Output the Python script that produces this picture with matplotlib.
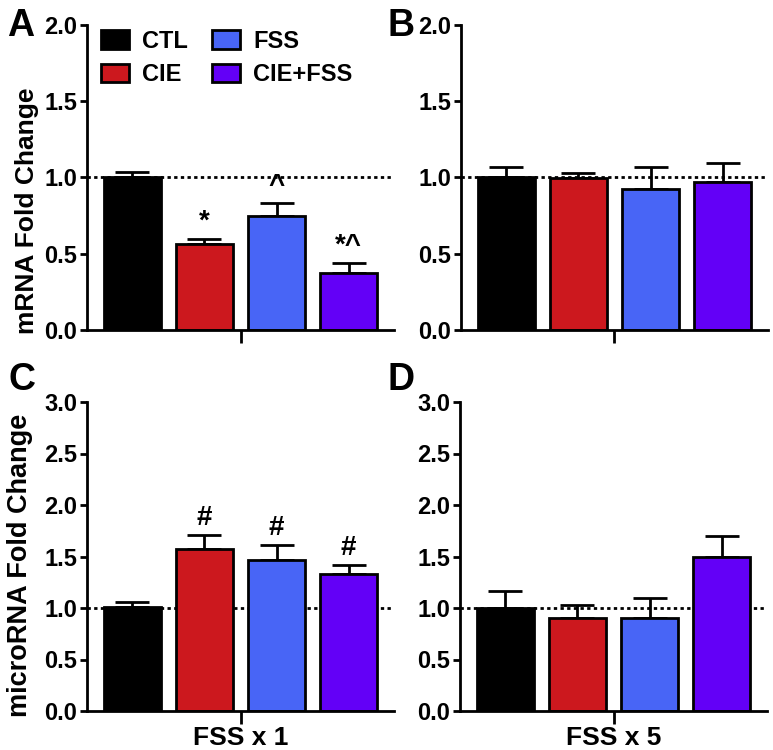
import matplotlib.pyplot as plt
import numpy as np

plt.rcParams['font.family'] = ['Liberation Sans', 'DejaVu Sans']
plt.rcParams['font.weight'] = 'bold'
plt.rcParams['axes.labelweight'] = 'bold'

groups = ["CTL", "CIE", "FSS", "CIE+FSS"]
colors = ["#000000", "#CC181E", "#4865F6", "#6300F7"]

mrna_x1 = [1.00, 0.565, 0.748, 0.372]
mrna_x1_err = [0.036, 0.030, 0.085, 0.065]
mrna_x5 = [1.00, 0.997, 0.923, 0.973]
mrna_x5_err = [0.067, 0.033, 0.144, 0.124]

mir_x1 = [1.005, 1.571, 1.465, 1.329]
mir_x1_err = [0.049, 0.136, 0.145, 0.087]
mir_x5 = [1.00, 0.907, 0.907, 1.499]
mir_x5_err = [0.165, 0.119, 0.187, 0.200]

marks_a = ["", "*", "^", "*^"]
marks_c = ["", "#", "#", "#"]

fig = plt.figure(figsize=(7.73, 7.5), dpi=100)
W = 307 / 773
axA = fig.add_axes([87 / 773, 1 - 330 / 750, W, 305 / 750])
axB = fig.add_axes([461 / 773, 1 - 330 / 750, W, 305 / 750])
axC = fig.add_axes([87 / 773, 1 - 711 / 750, W, 309 / 750])
axD = fig.add_axes([460 / 773, 1 - 711 / 750, W, 309 / 750])


def panel(ax, vals, errs, ymax, marks=None, xlab=""):
    x = np.arange(len(vals))
    ax.axhline(1.0, color="black", lw=2, ls=(0, (1.2, 1.2)), zorder=0)
    ax.errorbar(x, vals, yerr=[np.zeros(len(vals)), errs], fmt="none",
                ecolor="black", elinewidth=2, capsize=12, capthick=2, zorder=1)
    bars = ax.bar(x, vals, width=0.8, color=colors, edgecolor="black",
                  linewidth=2, zorder=2)
    ax.set_xlim(-0.63, 3.63)
    ax.set_ylim(0, ymax)
    ticks = np.arange(0, ymax + 0.01, 0.5)
    ax.set_yticks(ticks)
    ax.set_yticklabels([f"{t:.1f}" for t in ticks])
    ax.set_xticks([1.5])
    ax.set_xticklabels([xlab])
    for s in ["top", "right"]:
        ax.spines[s].set_visible(False)
    for s in ["left", "bottom"]:
        ax.spines[s].set_linewidth(2)
    ax.tick_params(axis="y", length=5, width=2, labelsize=17, pad=2)
    ax.tick_params(axis="x", length=9, width=2, labelsize=19, pad=2)
    if marks:
        for xi, v, e, m in zip(x, vals, errs, marks):
            if m:
                ax.annotate(m, (xi, v + e), xytext=(0, 3), textcoords="offset points",
                            ha="center", va="bottom", fontsize=20, fontweight="bold")
    return bars


bars = panel(axA, mrna_x1, mrna_x1_err, 2.0, marks_a)
panel(axB, mrna_x5, mrna_x5_err, 2.0)
panel(axC, mir_x1, mir_x1_err, 3.0, marks_c, "FSS x 1")
panel(axD, mir_x5, mir_x5_err, 3.0, None, "FSS x 5")

axA.set_ylabel("mRNA Fold Change", fontsize=19)
axA.yaxis.set_label_coords(-0.155, 0.39)
axC.set_ylabel("microRNA Fold Change", fontsize=19.5)
axC.yaxis.set_label_coords(-0.175, 0.47)

axA.legend(bars, groups, ncol=2, frameon=False, loc="upper left",
           bbox_to_anchor=(0.045, 0.985), fontsize=17, handlelength=1.2,
           handleheight=0.85, columnspacing=1.0, handletextpad=0.55,
           labelspacing=0.45, borderpad=0, borderaxespad=0)

for lab, x, y in [("A", 7, 8), ("B", 388, 8), ("C", 8, 362), ("D", 388, 362)]:
    fig.text(x / 773, 1 - y / 750, lab, fontsize=27, fontweight="bold",
             ha="left", va="top")

fig.savefig("out.png", dpi=100)
